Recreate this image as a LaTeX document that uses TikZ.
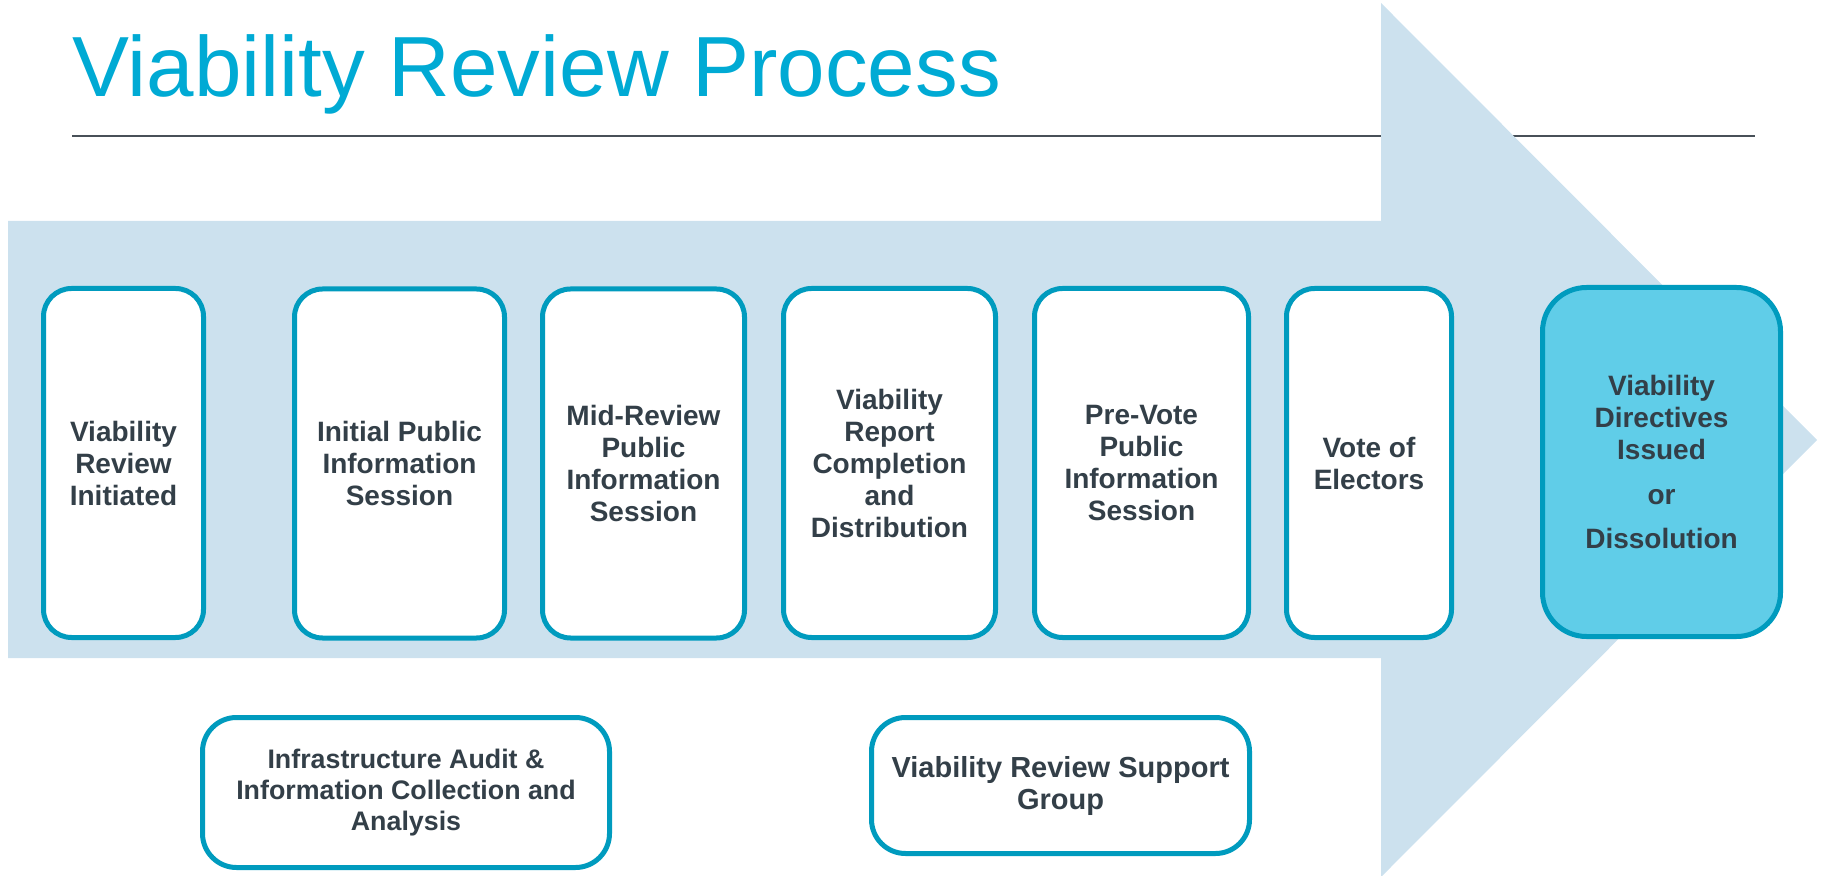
\documentclass[tikz,border=0pt]{standalone}
\usepackage{fontspec}
\setmainfont{Liberation Sans}
\usepackage{xcolor}
\usepackage{tikz}
\usetikzlibrary{positioning}
\definecolor{bandblue}{RGB}{204,225,238}
\definecolor{edgeblue}{RGB}{0,155,190}
\definecolor{titleblue}{RGB}{0,170,212}
\definecolor{endblue}{RGB}{96,205,232}
\definecolor{textdark}{RGB}{51,63,72}
\definecolor{rulegray}{RGB}{72,80,88}

\begin{document}
\begin{tikzpicture}[x=0.5pt,y=-0.5pt,
  stepbox/.style={draw=edgeblue, line width=2.5pt, fill=white, rounded corners=14pt,
    text=textdark, align=center, font=\bfseries\fontsize{14}{16}\selectfont,
    minimum height=174.5pt, inner sep=2pt},
  sidebox/.style={stepbox, rounded corners=17pt}]
\useasboundingbox (0,0) rectangle (1825,876);

% Title
\node[anchor=base west, inner sep=0, text=titleblue, font=\fontsize{42.7}{50}\selectfont] (title) at (72,97) {Viability Review Process};
\draw[rulegray, line width=1.2pt] (72,136) -- (1755,136);

% Band arrow
\fill[bandblue] (8,221) -- (1381,221) -- (1381,3) -- (1817,440) -- (1381,877) -- (1381,658) -- (8,658) -- cycle;

% Steps
\node[stepbox, minimum width=80pt] (initiated) at (123.5,463) {Viability\\Review\\Initiated};
\node[stepbox, minimum width=105pt] (initial) at (399.5,463.5) {Initial Public\\Information\\Session};
\node[stepbox, minimum width=101pt] (midreview) at (643.5,463.5) {Mid-Review\\Public\\Information\\Session};
\node[stepbox, minimum width=106pt] (report) at (889.5,463) {Viability\\Report\\Completion\\and\\Distribution};
\node[stepbox, minimum width=107pt] (prevote) at (1141.5,463) {Pre-Vote\\Public\\Information\\Session};
\node[stepbox, minimum width=82.5pt] (vote) at (1369,463) {Vote of\\Electors};
\node[stepbox, minimum width=119pt, fill=endblue, rounded corners=22pt] (directives) at (1661.5,462) {Viability\\Directives\\Issued\\[6.5pt]or\\[6pt]Dissolution};

% Supporting work
\node[sidebox, minimum width=203.5pt, minimum height=75pt, font=\bfseries\fontsize{13.4}{15.5}\selectfont] (audit) at (406,792.5) {Infrastructure Audit \&\\Information Collection and\\Analysis};
\node[sidebox, minimum width=189pt, minimum height=68pt, font=\bfseries\fontsize{14.5}{16}\selectfont] (support) at (1060.5,785.5) {Viability Review Support\\Group};
\end{tikzpicture}
\end{document}
